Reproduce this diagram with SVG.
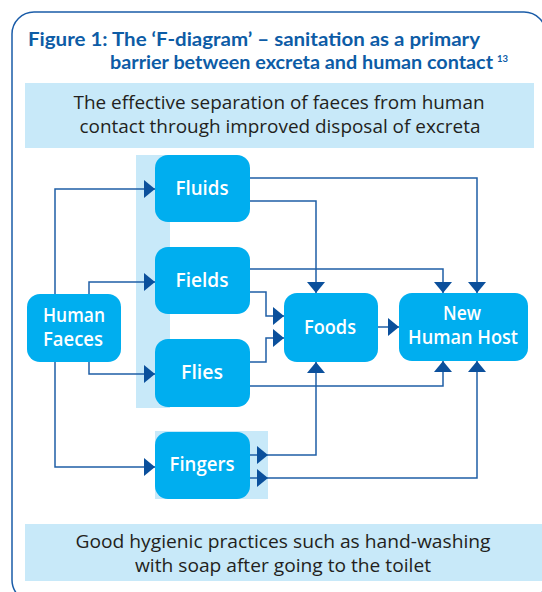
<svg xmlns="http://www.w3.org/2000/svg" width="542" height="592" viewBox="0 0 542 592">
<defs>
<style>
.frame{fill:none;stroke:#1a5ca8;stroke-width:1.5}
.band{fill:#c8e9f9}
.node{fill:#00aeef}
.lbl{font-family:"Open Sans","Liberation Sans",sans-serif;font-size:19px;font-weight:600;fill:#ffffff;text-anchor:middle}
.title{font-family:Lato,"Open Sans","Liberation Sans",sans-serif;font-size:19px;font-weight:700;fill:#0d5ca6}
.sup{font-family:Lato,"Open Sans","Liberation Sans",sans-serif;font-size:9px;font-weight:700;fill:#0d5ca6}
.body{font-family:"Open Sans","Liberation Sans",sans-serif;font-size:19px;fill:#231f20;text-anchor:middle}
.con{fill:none;stroke:#1f5fa6;stroke-width:1.5}
.ah{fill:#0b509c}
</style>
<marker id="arr" markerUnits="userSpaceOnUse" markerWidth="12" markerHeight="20" viewBox="0 -10 12 20" refX="11" refY="0" orient="auto">
<path d="M0,-9 L11,0 L0,9 z" fill="#0b509c"/>
</marker>
</defs>
<rect width="542" height="592" fill="#ffffff"/>
<rect class="frame" x="12" y="12" width="534" height="590" rx="22"/>
<g id="title">
<text class="title" x="28" y="46" textLength="452" lengthAdjust="spacingAndGlyphs">Figure 1: The ‘F-diagram’ – sanitation as a primary</text>
<text class="title" x="110" y="69" textLength="383" lengthAdjust="spacingAndGlyphs">barrier between excreta and human contact</text>
<text class="sup" x="497" y="62" textLength="11" lengthAdjust="spacingAndGlyphs">13</text>
</g>
<g id="top-band">
<rect class="band" x="25" y="83" width="509" height="65"/>
<text class="body" x="279" y="109" textLength="411" lengthAdjust="spacingAndGlyphs">The effective separation of faeces from human</text>
<text class="body" x="280" y="133" textLength="401" lengthAdjust="spacingAndGlyphs">contact through improved disposal of excreta</text>
</g>
<g id="bottom-band">
<rect class="band" x="25" y="524" width="517" height="57"/>
<text class="body" x="283" y="548" textLength="415" lengthAdjust="spacingAndGlyphs">Good hygienic practices such as hand-washing</text>
<text class="body" x="283" y="572" textLength="296" lengthAdjust="spacingAndGlyphs">with soap after going to the toilet</text>
</g>
<rect class="band" x="136" y="155" width="34" height="253"/>
<rect class="band" x="155" y="431" width="113" height="68"/>
<g id="connectors">
<path class="con" marker-end="url(#arr)" d="M55,294 V189 H155"/>
<path class="con" marker-end="url(#arr)" d="M89,294 V282 H155"/>
<path class="con" marker-end="url(#arr)" d="M89,362 V374 H155"/>
<path class="con" marker-end="url(#arr)" d="M55,362 V467 H155"/>
<path class="con" marker-end="url(#arr)" d="M250,178 H477 V293"/>
<path class="con" marker-end="url(#arr)" d="M250,201 H316 V293"/>
<path class="con" marker-end="url(#arr)" d="M250,269 H443 V293"/>
<path class="con" marker-end="url(#arr)" d="M250,292 H266 V316 H284"/>
<path class="con" marker-end="url(#arr)" d="M250,362 H266 V338 H284"/>
<path class="con" marker-end="url(#arr)" d="M250,386 H443 V361"/>
<path class="con" marker-end="url(#arr)" d="M378,327 H399"/>
<path class="con" marker-end="url(#arr)" d="M250,455 H316 V362"/>
<path class="con" marker-end="url(#arr)" d="M250,478 H477 V361"/>
<path class="ah" d="M257,446 L268,455 L257,464 z"/>
<path class="ah" d="M257,469 L268,478 L257,487 z"/>
</g>
<g id="human-faeces">
<rect class="node" x="27" y="294" width="94" height="68" rx="13"/>
<text class="lbl" x="74" y="322" textLength="62" lengthAdjust="spacingAndGlyphs">Human</text>
<text class="lbl" x="73" y="346" textLength="60" lengthAdjust="spacingAndGlyphs">Faeces</text>
</g>
<g id="fluids">
<rect class="node" x="155" y="155" width="95" height="67" rx="13"/>
<text class="lbl" x="202" y="195" textLength="53" lengthAdjust="spacingAndGlyphs">Fluids</text>
</g>
<g id="fields">
<rect class="node" x="155" y="247" width="95" height="67" rx="13"/>
<text class="lbl" x="202" y="287" textLength="53" lengthAdjust="spacingAndGlyphs">Fields</text>
</g>
<g id="flies">
<rect class="node" x="155" y="339" width="95" height="68" rx="13"/>
<text class="lbl" x="202" y="379" textLength="42" lengthAdjust="spacingAndGlyphs">Flies</text>
</g>
<g id="fingers">
<rect class="node" x="155" y="432" width="95" height="67" rx="13"/>
<text class="lbl" x="202" y="471" textLength="65" lengthAdjust="spacingAndGlyphs">Fingers</text>
</g>
<g id="foods">
<rect class="node" x="284" y="293" width="94" height="69" rx="13"/>
<text class="lbl" x="330" y="334" textLength="52" lengthAdjust="spacingAndGlyphs">Foods</text>
</g>
<g id="new-human-host">
<rect class="node" x="399" y="293" width="129" height="68" rx="13"/>
<text class="lbl" x="462" y="320" textLength="38" lengthAdjust="spacingAndGlyphs">New</text>
<text class="lbl" x="463" y="344" textLength="110" lengthAdjust="spacingAndGlyphs">Human Host</text>
</g>
</svg>
